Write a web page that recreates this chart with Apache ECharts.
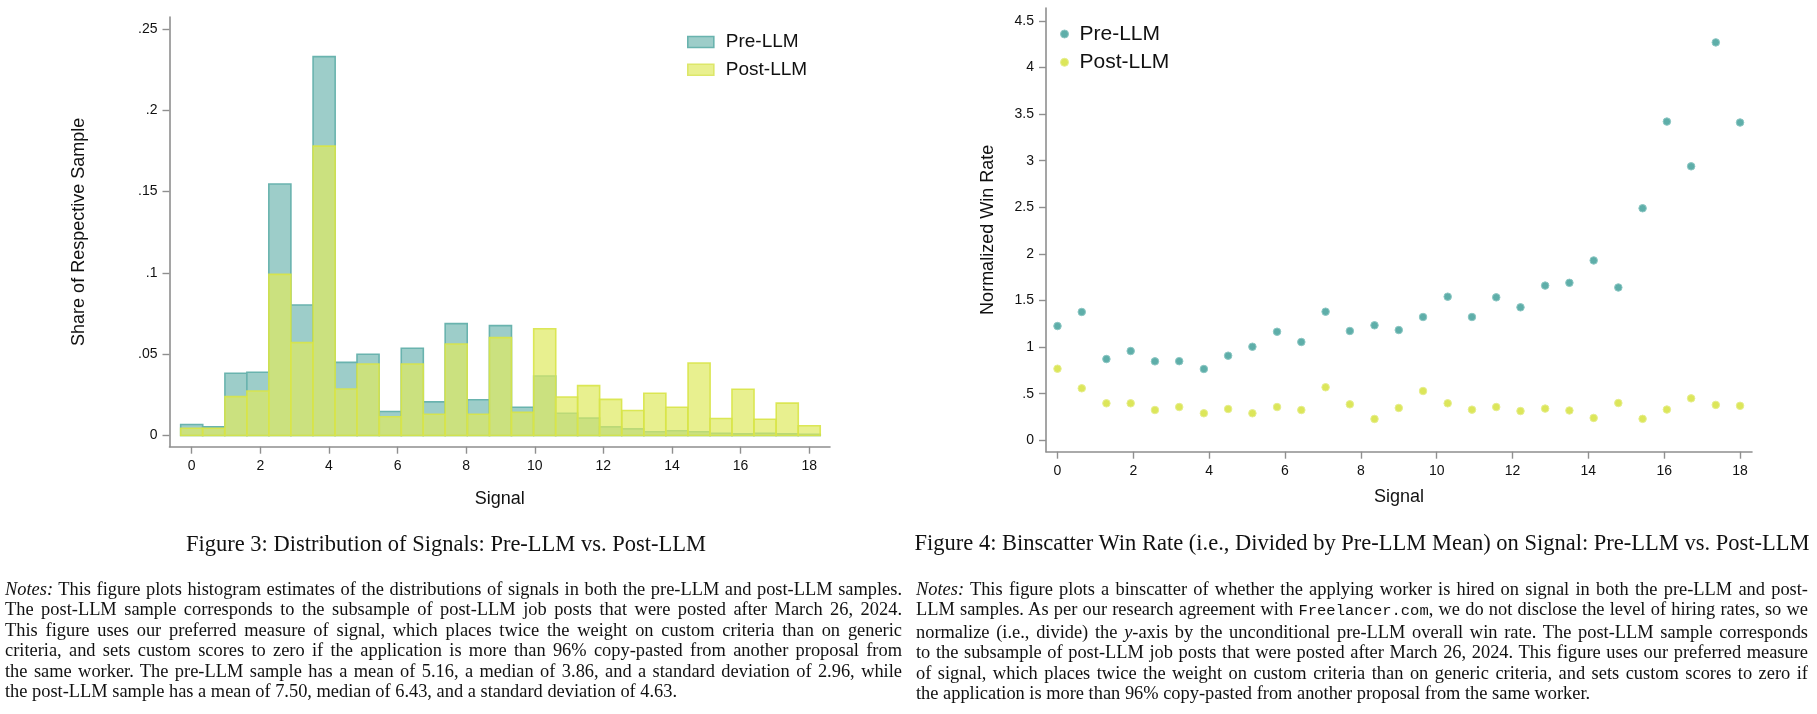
<!DOCTYPE html>
<html>
<head>
<meta charset="utf-8">
<script src="https://cdn.jsdelivr.net/npm/echarts@6/dist/echarts.min.js"></script>
<style>
html,body{margin:0;padding:0;background:#fff;width:1817px;height:714px;overflow:hidden;}
#chart{position:absolute;left:0;top:0;width:1817px;height:714px;}
.cap{position:absolute;font-family:'Liberation Serif','Times New Roman',serif;font-size:22.5px;color:#111;white-space:nowrap;transform:translate(-50%,-50%);}
.notes{position:absolute;font-family:'Liberation Serif','Times New Roman',serif;font-size:18.4px;line-height:20.4px;color:#111;}
.notes div{text-align:justify;text-align-last:justify;white-space:nowrap;}
.notes div.last{text-align-last:left;}
.notes i{font-style:italic;}
.mono{font-family:'Liberation Mono','DejaVu Sans Mono',monospace;font-size:15.5px;}
</style>
</head>
<body>
<div id="chart"></div>
<div class="cap" style="left:446px;top:544px;">Figure 3: Distribution of Signals: Pre-LLM vs. Post-LLM</div>
<div class="cap" style="left:1362px;top:543px;">Figure 4: Binscatter Win Rate (i.e., Divided by Pre-LLM Mean) on Signal: Pre-LLM vs. Post-LLM</div>
<div class="notes" style="left:5px;top:579px;width:897px;">
<div><i>Notes:</i> This figure plots histogram estimates of the distributions of signals in both the pre-LLM and post-LLM samples.</div>
<div>The post-LLM sample corresponds to the subsample of post-LLM job posts that were posted after March 26, 2024.</div>
<div>This figure uses our preferred measure of signal, which places twice the weight on custom criteria than on generic</div>
<div>criteria, and sets custom scores to zero if the application is more than 96% copy-pasted from another proposal from</div>
<div>the same worker. The pre-LLM sample has a mean of 5.16, a median of 3.86, and a standard deviation of 2.96, while</div>
<div class="last">the post-LLM sample has a mean of 7.50, median of 6.43, and a standard deviation of 4.63.</div>
</div>
<div class="notes" style="left:916px;top:579px;width:892px;">
<div><i>Notes:</i> This figure plots a binscatter of whether the applying worker is hired on signal in both the pre-LLM and post-</div>
<div>LLM samples. As per our research agreement with <span class="mono">Freelancer.com</span>, we do not disclose the level of hiring rates, so we</div>
<div>normalize (i.e., divide) the <i>y</i>-axis by the unconditional pre-LLM overall win rate. The post-LLM sample corresponds</div>
<div>to the subsample of post-LLM job posts that were posted after March 26, 2024. This figure uses our preferred measure</div>
<div>of signal, which places twice the weight on custom criteria than on generic criteria, and sets custom scores to zero if</div>
<div class="last">the application is more than 96% copy-pasted from another proposal from the same worker.</div>
</div>
<script>
// ---- data ----
const signalBins = [0, 0.64, 1.29, 1.93, 2.57, 3.21, 3.86, 4.5, 5.14, 5.79, 6.43, 7.07, 7.71, 8.36, 9, 9.64, 10.29, 10.93, 11.57, 12.21, 12.86, 13.5, 14.14, 14.79, 15.43, 16.07, 16.71, 17.36, 18];
const binWidth = 0.643;
const preShare = [0.0068, 0.0053, 0.0383, 0.0389, 0.1547, 0.0803, 0.2330, 0.0450, 0.0500, 0.0148, 0.0537, 0.0207, 0.0688, 0.0220, 0.0676, 0.0174, 0.0366, 0.0137, 0.0107, 0.0053, 0.0041, 0.0023, 0.0029, 0.0023, 0.0014, 0.0010, 0.0014, 0.0010, 0.0008];
const postShare = [0.0045, 0.0045, 0.0239, 0.0274, 0.0991, 0.0571, 0.1780, 0.0286, 0.0440, 0.0115, 0.0440, 0.0131, 0.0563, 0.0131, 0.0602, 0.0142, 0.0657, 0.0237, 0.0307, 0.0222, 0.0154, 0.0260, 0.0174, 0.0446, 0.0105, 0.0284, 0.0100, 0.0199, 0.0060];
const preWin = [1.226, 1.377, 0.872, 0.958, 0.847, 0.849, 0.765, 0.908, 1.004, 1.165, 1.055, 1.380, 1.173, 1.234, 1.183, 1.323, 1.541, 1.323, 1.534, 1.427, 1.66, 1.69, 1.93, 1.64, 2.49, 3.42, 2.94, 4.27, 3.41];
const postWin = [0.768, 0.558, 0.397, 0.397, 0.325, 0.357, 0.290, 0.336, 0.290, 0.357, 0.325, 0.569, 0.386, 0.229, 0.347, 0.529, 0.397, 0.329, 0.357, 0.314, 0.34, 0.32, 0.24, 0.40, 0.23, 0.33, 0.45, 0.38, 0.37];
const signalTicks = [0, 2, 4, 6, 8, 10, 12, 14, 16, 18];
const shareTicks = [0, 0.05, 0.1, 0.15, 0.2, 0.25];
const winTicks = [0, 0.5, 1, 1.5, 2, 2.5, 3, 3.5, 4, 4.5];
const seriesNames = ['Pre-LLM', 'Post-LLM'];

// ---- styles ----
const FONT = 'Liberation Sans, Arial, sans-serif';
const AX = '#8f8f8f';
const preFill = '#9dcdc9', preStroke = '#69b3ae';
const postFill = 'rgba(222,233,95,0.70)', postStroke = 'rgba(216,228,72,0.9)';
const preDot = '#5eaea9', postDot = '#dce65a';

function fmt(v){ if (v === 0) return '0'; return String(v).replace(/^0\./, '.'); }

function histRender(fill, stroke){
  return function(params, api){
    const x = api.value(0), y = api.value(1);
    const p0 = api.coord([x - binWidth / 2, 0]);
    const p1 = api.coord([x + binWidth / 2, y]);
    return {type:'rect', shape:{x:p0[0], y:p1[1], width:p1[0]-p0[0], height:p0[1]-p1[1]},
            style:{fill:fill, stroke:stroke, lineWidth:1.6}};
  };
}

function xAxisCfg(gi, min, max, gap){
  return {gridIndex:gi, type:'value', min:min, max:max,
    axisLine:{show:true, onZero:false, lineStyle:{color:AX, width:1.6}},
    axisTick:{show:true, customValues:signalTicks, length:7, lineStyle:{color:AX, width:1.4}},
    axisLabel:{customValues:signalTicks, margin:12, fontSize:14, color:'#111', fontFamily:FONT},
    splitLine:{show:false},
    name:'Signal', nameLocation:'middle', nameGap:gap,
    nameTextStyle:{fontSize:18, color:'#111', fontFamily:FONT}};
}
function yAxisCfg(gi, min, max, ticks, name, gap){
  return {gridIndex:gi, type:'value', min:min, max:max,
    axisLine:{show:true, onZero:false, lineStyle:{color:AX, width:1.6}},
    axisTick:{show:true, customValues:ticks, length:7, lineStyle:{color:AX, width:1.4}},
    axisLabel:{customValues:ticks, margin:12, fontSize:14, color:'#111', fontFamily:FONT, formatter:fmt},
    splitLine:{show:false},
    name:name, nameLocation:'middle', nameGap:gap,
    nameTextStyle:{fontSize:18, color:'#111', fontFamily:FONT}};
}

const chart = echarts.init(document.getElementById('chart'), null, {renderer:'canvas'});
chart.setOption({
  animation:false,
  backgroundColor:'#fff',
  textStyle:{fontFamily:FONT},
  grid:[
    {left:169.5, top:17, width:660.5, height:429.7},
    {left:1046, top:8, width:706, height:443.7}
  ],
  xAxis:[ xAxisCfg(0, -0.647, 18.606, 43), xAxisCfg(1, -0.303, 18.315, 36) ],
  yAxis:[ yAxisCfg(0, -0.00689, 0.2574, shareTicks, 'Share of Respective Sample', 81),
          yAxisCfg(1, -0.1223, 4.639, winTicks, 'Normalized Win Rate', 49) ],
  legend:[
    {orient:'vertical', left:687, top:31, padding:0, itemWidth:26, itemHeight:11, itemGap:5.7,
     selectedMode:false,
     textStyle:{fontSize:19, lineHeight:22, color:'#111', fontFamily:FONT, padding:[0,0,0,7]},
     data:[{name:seriesNames[0], icon:'rect', itemStyle:{color:preFill, borderColor:preStroke, borderWidth:1.6}},
           {name:seriesNames[1], icon:'rect', itemStyle:{color:'#e9f08f', borderColor:'#dde76a', borderWidth:1.6}}]},
    {orient:'vertical', left:1060, top:22, padding:0, itemWidth:8, itemHeight:8, itemGap:4.3,
     selectedMode:false,
     textStyle:{fontSize:21, lineHeight:24, color:'#111', fontFamily:FONT, padding:[0,0,0,6]},
     data:[{name:seriesNames[0], icon:'circle', itemStyle:{color:preDot, borderColor:'#8cc7c3', borderWidth:1}},
           {name:seriesNames[1], icon:'circle', itemStyle:{color:postDot, borderColor:'#e6ee8e', borderWidth:1}}]}
  ],
  series:[
    {name:seriesNames[0], type:'custom', xAxisIndex:0, yAxisIndex:0, clip:true,
     renderItem:histRender(preFill, preStroke), itemStyle:{color:preFill},
     data:signalBins.map((x,i)=>[x, preShare[i]])},
    {name:seriesNames[1], type:'custom', xAxisIndex:0, yAxisIndex:0, clip:true,
     renderItem:histRender(postFill, postStroke), itemStyle:{color:postFill},
     data:signalBins.map((x,i)=>[x, postShare[i]])},
    {name:seriesNames[0], type:'scatter', xAxisIndex:1, yAxisIndex:1, symbol:'circle', symbolSize:7.5,
     itemStyle:{color:preDot, borderColor:'#8cc7c3', borderWidth:1, opacity:1},
     data:signalBins.map((x,i)=>[x, preWin[i]])},
    {name:seriesNames[1], type:'scatter', xAxisIndex:1, yAxisIndex:1, symbol:'circle', symbolSize:7.5,
     itemStyle:{color:postDot, borderColor:'#e6ee8e', borderWidth:1, opacity:1},
     data:signalBins.map((x,i)=>[x, postWin[i]])}
  ]
});
</script>
</body>
</html>
